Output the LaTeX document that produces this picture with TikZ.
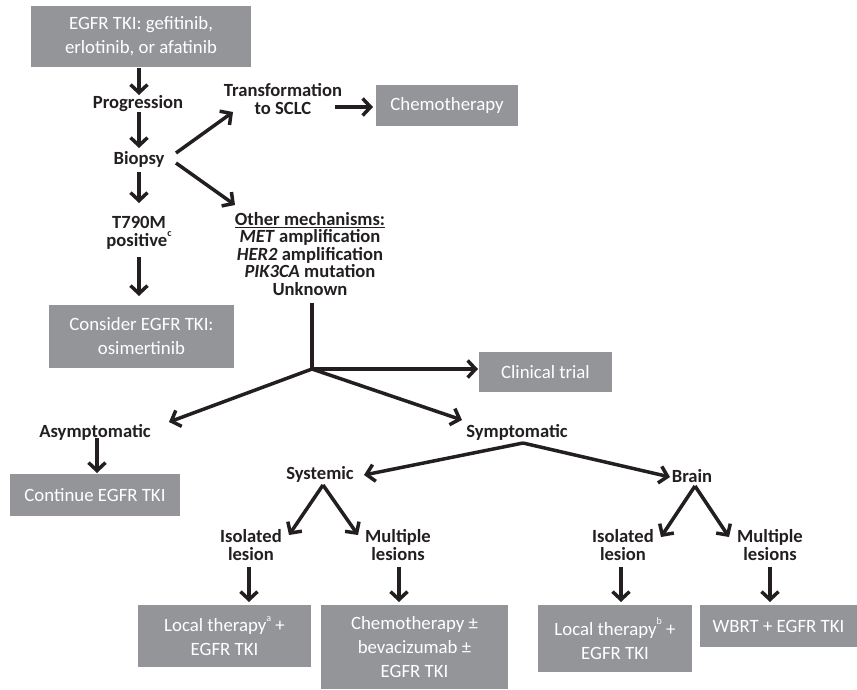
\documentclass[tikz,border=0pt]{standalone}
\usepackage{fontspec}
\setmainfont{Carlito}
\usetikzlibrary{arrows.meta}
\definecolor{boxgray}{RGB}{147,149,152}
\definecolor{ink}{RGB}{35,31,32}
\tikzset{
  gbox/.style={fill=boxgray, text=white, align=center, inner sep=0pt,
    font=\fontsize{18.8}{24}\selectfont},
  lbl/.style={text=ink, align=center, inner sep=1pt,
    font=\bfseries\fontsize{18.6}{17.5}\selectfont},
  arr/.style={draw=ink, line width=3.5pt, -{Straight Barb[length=8pt,width=17pt]}},
  ln/.style={draw=ink, line width=3.5pt},
}
\newcommand{\supmark}[1]{\raisebox{0.55em}{\fontsize{10}{10}\selectfont #1}}
\begin{document}
\begin{tikzpicture}[x=1pt,y=-1pt]
\useasboundingbox (0,0) rectangle (857,689);
% boxes
\node[gbox, minimum width=220pt, minimum height=61pt] (b1) at (141,36.5) {EGFR TKI: gefitinib,\\erlotinib, or afatinib};
\node[gbox, minimum width=185pt, minimum height=63pt] (b2) at (141.5,336.5) {Consider EGFR TKI:\\osimertinib};
\node[gbox, minimum width=142pt, minimum height=41pt] (chemo) at (447,105.5) {Chemotherapy};
\node[gbox, minimum width=133pt, minimum height=40pt] (clin) at (545.5,372) {Clinical trial};
\node[gbox, minimum width=170pt, minimum height=42pt] (cont) at (95,495) {Continue EGFR TKI};
\node[gbox, minimum width=173pt, minimum height=62pt] (loc1) at (224.5,636) {Local therapy\supmark{a} +\\EGFR TKI};
\node[gbox, minimum width=187pt, minimum height=84pt] (chemo2) at (414.5,647) {Chemotherapy ±\\bevacizumab ±\\EGFR TKI};
\node[gbox, minimum width=154pt, minimum height=67pt] (loc2) at (615,638.5) {Local therapy\supmark{b} +\\EGFR TKI};
\node[gbox, minimum width=157pt, minimum height=42pt] (wbrt) at (778.5,626) {WBRT + EGFR TKI};
% labels
\node[lbl] (prog) at (138,104) {Progression};
\node[lbl] (biopsy) at (139,159) {Biopsy};
\node[lbl] (t790) at (139,233) {T790M\\positive\supmark{c}};
\node[lbl] (trans) at (283,99) {Transformation\\to SCLC};
\node[lbl] (other) at (310,254) {\underline{Other mechanisms:}\\\textit{MET} amplification\\\textit{HER2} amplification\\\textit{PIK3CA} mutation\\Unknown};
\coordinate (J) at (312,369);
\node[lbl] (asym) at (95,432) {Asymptomatic};
\node[lbl] (symp) at (517,432) {Symptomatic};
\node[lbl] (sys) at (320,474) {Systemic};
\node[lbl] (brain) at (692,476) {Brain};
\node[lbl] (iso1) at (251,545) {Isolated\\lesion};
\node[lbl] (mult1) at (398,545) {Multiple\\lesions};
\node[lbl] (iso2) at (623,545) {Isolated\\lesion};
\node[lbl] (mult2) at (770,545) {Multiple\\lesions};
% connectors
\draw[arr] ([shift={(-2,31.5)}]b1.center) -- ([shift={(1,-9)}]prog.center);
\draw[arr] ([shift={(1,8)}]prog.center) -- ([shift={(0,-11)}]biopsy.center);
\draw[arr] ([shift={(0,13)}]biopsy.center) -- ([shift={(0,-30)}]t790.center);
\draw[arr] ([shift={(0,24)}]t790.center) -- ([shift={(-2.5,-40.5)}]b2.center);
\draw[arr] ([shift={(37,-6)}]biopsy.center) -- ([shift={(-50,13)}]trans.center);
\draw[arr] ([shift={(52,8)}]trans.center) -- ([shift={(-74,1.5)}]chemo.center);
\draw[arr] ([shift={(37,4)}]biopsy.center) -- ([shift={(-75,-49)}]other.center);
\draw[ln] ([shift={(2,49)}]other.center) -- (J);
\draw[arr] (J) -- ([shift={(-67.5,-3)}]clin.center);
\draw[arr] (J) -- ([shift={(74,-10)}]asym.center);
\draw[arr] (J) -- ([shift={(-55,-12)}]symp.center);
\draw[arr] ([shift={(2,6)}]asym.center) -- ([shift={(2,-22)}]cont.center);
\draw[arr] ([shift={(6,11)}]symp.center) -- ([shift={(44,1)}]sys.center);
\draw[arr] ([shift={(6,11)}]symp.center) -- ([shift={(-22,1)}]brain.center);
\draw[arr] ([shift={(3,11)}]sys.center) -- ([shift={(38,-10)}]iso1.center);
\draw[arr] ([shift={(3,11)}]sys.center) -- ([shift={(-40,-10)}]mult1.center);
\draw[arr] ([shift={(3,10)}]brain.center) -- ([shift={(38,-8)}]iso2.center);
\draw[arr] ([shift={(3,10)}]brain.center) -- ([shift={(-41,-8)}]mult2.center);
\draw[arr] ([shift={(-2,22)}]iso1.center) -- ([shift={(24.5,-34)}]loc1.center);
\draw[arr] ([shift={(1,22)}]mult1.center) -- ([shift={(-15.5,-45)}]chemo2.center);
\draw[arr] ([shift={(-2,22)}]iso2.center) -- ([shift={(6,-36.5)}]loc2.center);
\draw[arr] ([shift={(0,22)}]mult2.center) -- ([shift={(-8.5,-24)}]wbrt.center);
\end{tikzpicture}
\end{document}
